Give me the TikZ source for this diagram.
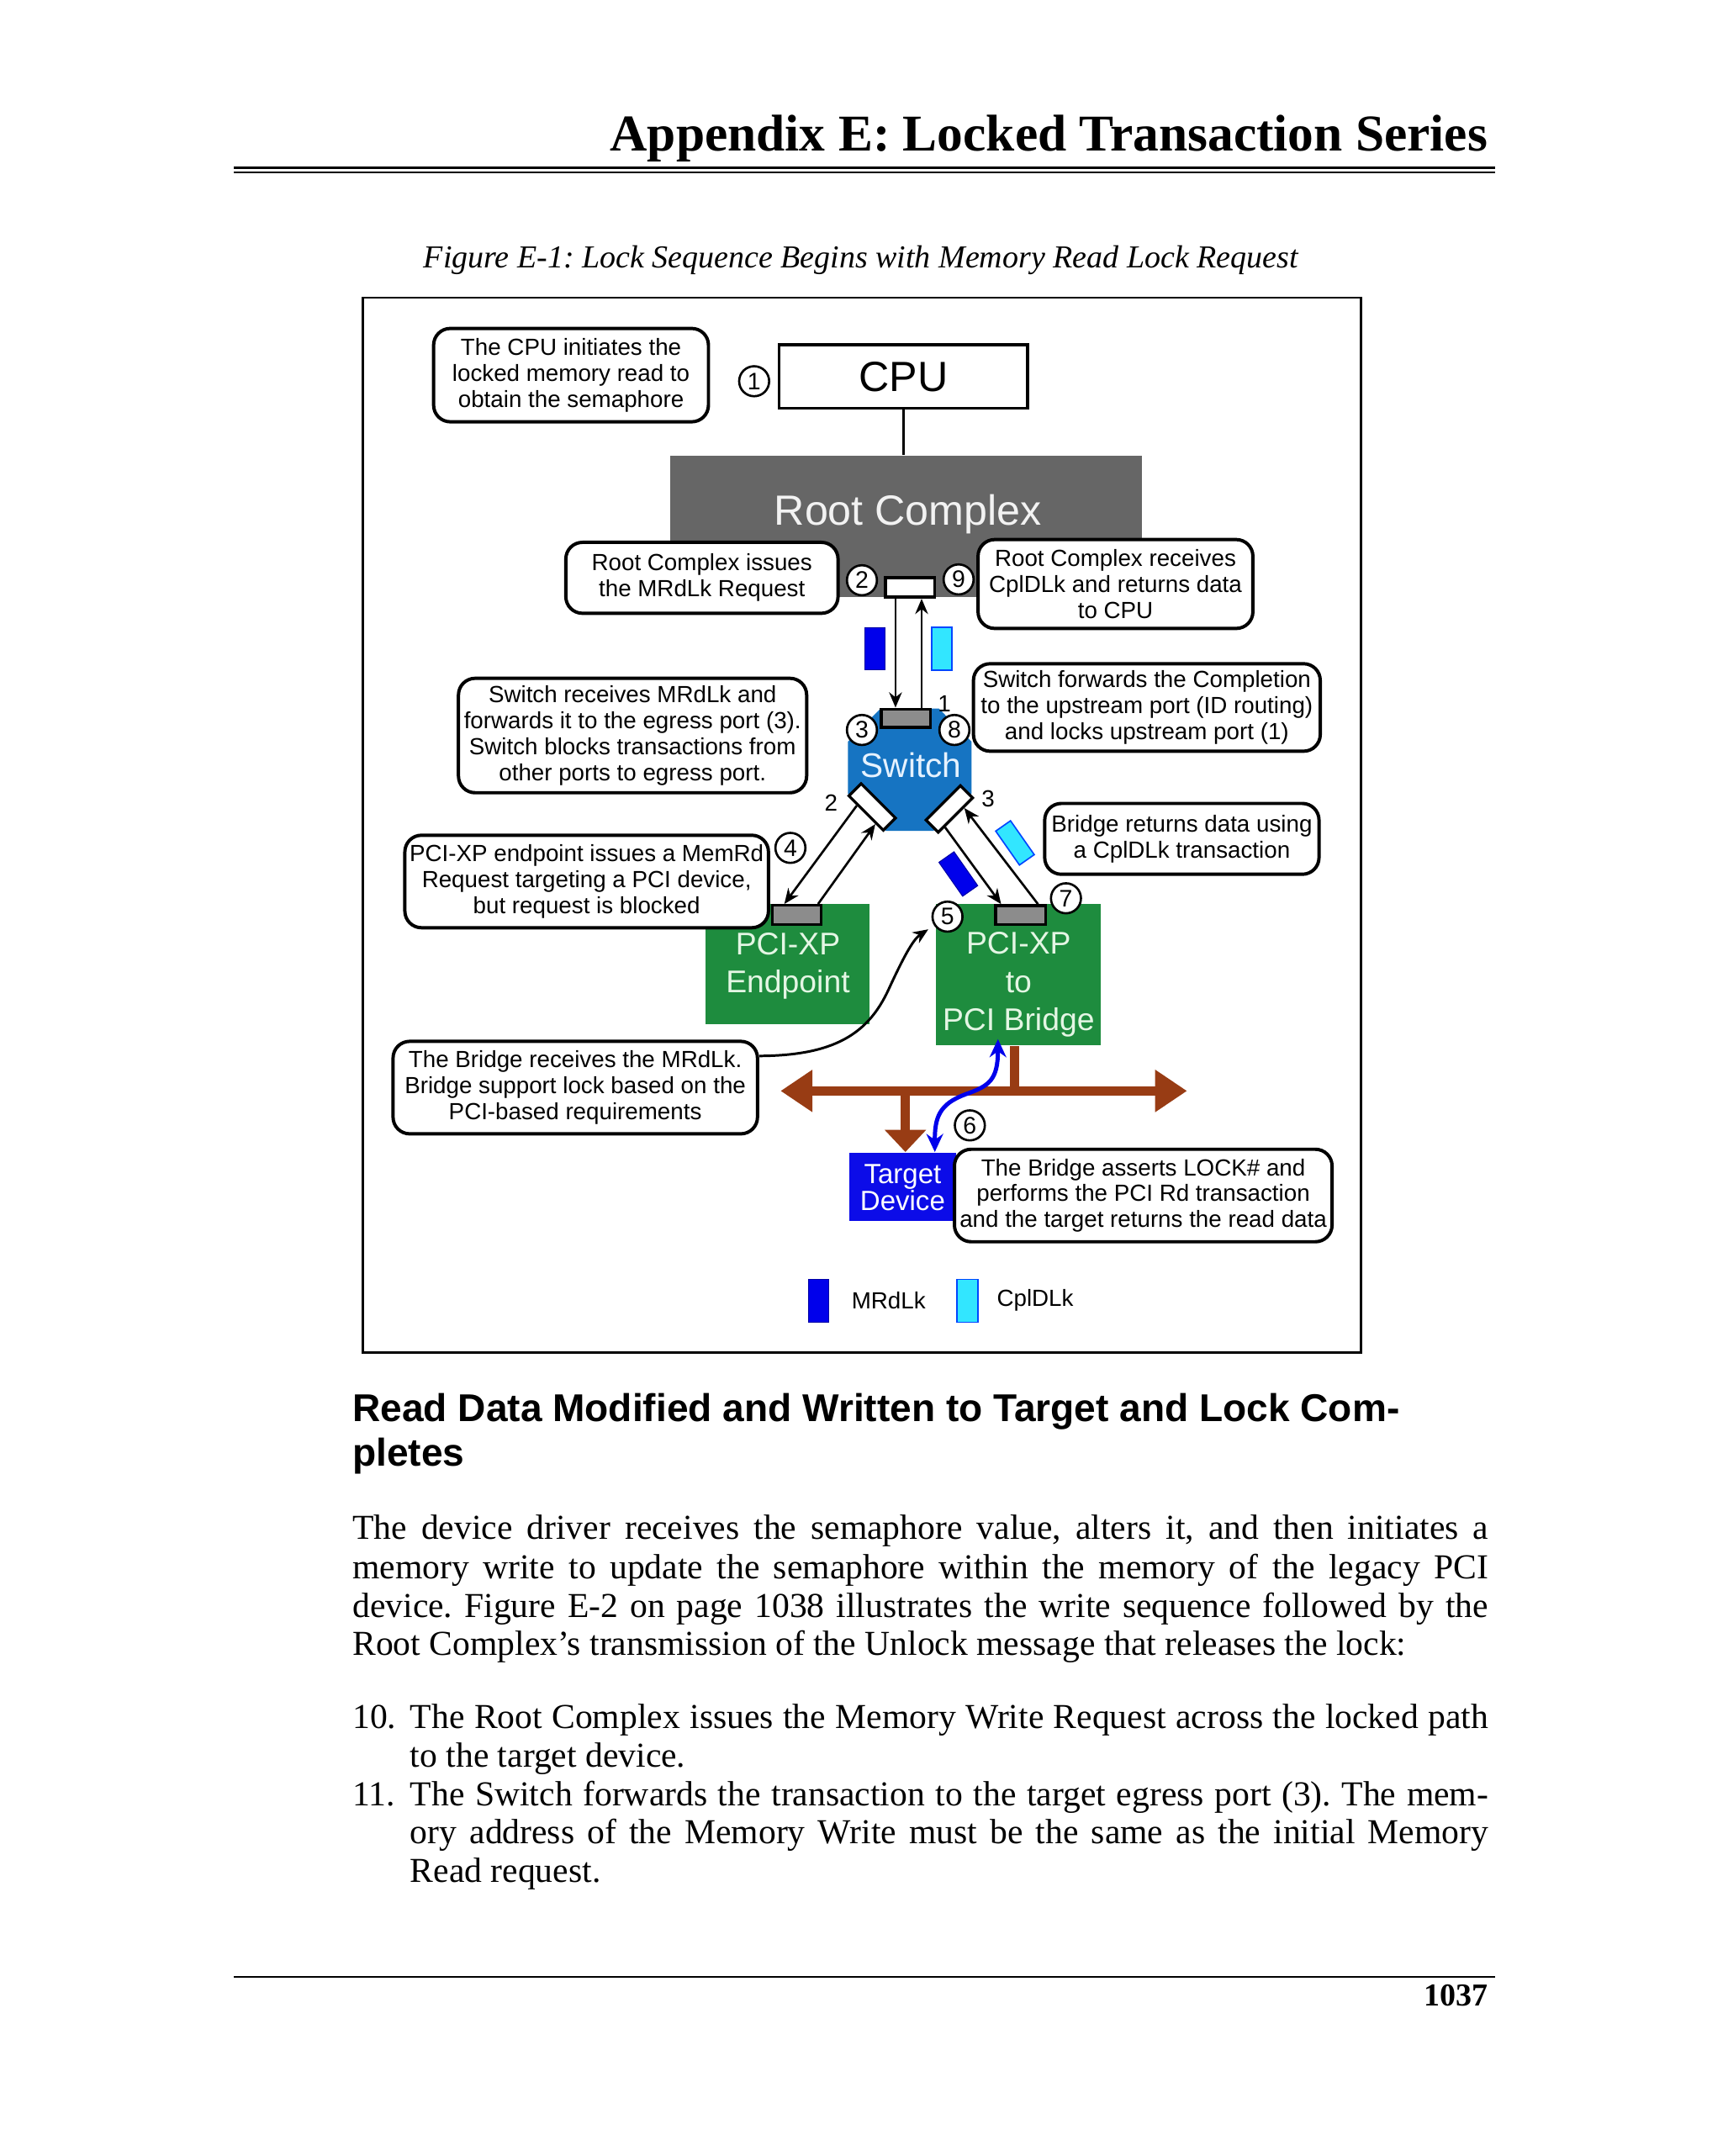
\documentclass[tikz,border=0pt]{standalone}
\usepackage{fontspec}
\setmainfont{Liberation Serif}
\setsansfont{Liberation Sans}
\newfontfamily\diagfont{Liberation Sans}
\usetikzlibrary{arrows.meta,calc}

\definecolor{rcgray}{RGB}{102,102,102}
\definecolor{rctext}{RGB}{242,242,242}
\definecolor{swblue}{RGB}{22,116,194}
\definecolor{swtext}{RGB}{230,242,255}
\definecolor{pgreen}{RGB}{30,140,62}
\definecolor{greentext}{RGB}{228,246,228}
\definecolor{portgray}{RGB}{140,140,140}
\definecolor{mrblue}{RGB}{0,0,235}
\definecolor{cplcyan}{RGB}{50,230,255}
\definecolor{cpledge}{RGB}{0,70,255}
\definecolor{tgtblue}{RGB}{12,12,232}
\definecolor{busbrown}{RGB}{152,60,20}

\newcommand\callfont{\diagfont\fontsize{8.4}{9.35}\selectfont}
\frenchspacing

\begin{document}
\begin{tikzpicture}[x=0.5pt,y=-0.5pt,
  callout/.style={draw, line width=1.2pt, rounded corners=6pt, fill=white, align=center, font=\callfont, inner sep=0pt},
  circnum/.style={circle, draw, line width=0.8pt, fill=white, inner sep=0pt, minimum size=10.8pt, font=\diagfont\fontsize{8.6}{8.6}\selectfont},
  portlbl/.style={font=\callfont, inner sep=0pt},
  wport/.style={draw, line width=1pt, fill=white, inner sep=0pt},
  gport/.style={draw, line width=1pt, fill=portgray, inner sep=0pt},
  link/.style={line width=0.8pt, -{Stealth[length=5.5pt,width=4.6pt]}},
  blk/.style={inner sep=0pt},
  gtext/.style={align=center, text=greentext, inner sep=0pt, font=\diagfont\fontsize{11.3}{13.7}\selectfont},
  mrpkt/.style={fill=mrblue, draw=mrblue!70!black, line width=0.3pt, inner sep=0pt},
  cplpkt/.style={fill=cplcyan, draw=cpledge, line width=0.5pt, inner sep=0pt},
  bus/.style={busbrown, line width=3.5pt}
]
\useasboundingbox (0,0) rectangle (1240,1552.4);

% ---------- page header ----------
\node[anchor=base east, inner sep=0pt, font=\fontsize{18.6}{20}\selectfont\bfseries] (title) at (1071.5,108.6) {Appendix E: Locked Transaction Series};
\coordinate (ruleL) at (168.3,120.7);
\coordinate (ruleR) at (1076.2,120.7);
\draw[line width=0.85pt] (ruleL) -- (ruleR);
\draw[line width=0.5pt] ([yshift=-1.8pt]ruleL) -- ([yshift=-1.8pt]ruleR);
\node[anchor=base, inner sep=0pt, font=\fontsize{11.5}{13}\selectfont\itshape] (caption) at (619.8,192.7) {Figure E-1: Lock Sequence Begins with Memory Read Lock Request};

% ---------- frame ----------
\node[draw, line width=0.8pt, minimum width=359.25pt, minimum height=379.7pt, inner sep=0pt] (frame) at (620.55,594) {};

% ---------- Root complex and CPU ----------
\node[blk, fill=rcgray, minimum width=169.65pt, minimum height=50.95pt] (rc) at (652.35,378.95) {};
\node[blk, text=rctext, font=\diagfont\fontsize{15.2}{15.2}\selectfont] (rclbl) at (653.8,370) {Root Complex};
\node[draw, line width=1.1pt, minimum width=89.5pt, minimum height=22.9pt, inner sep=0pt, font=\diagfont\fontsize{15.2}{15.2}\selectfont] (cpu) at (650.5,271.1) {CPU};
\draw[line width=1pt] (cpu.south) -- (cpu.south |- rc.north);

% ---------- Switch ----------
\fill[swblue] (634,510.2) -- (676,510.2) -- (699.5,534) -- (699.5,571.5) -- (672,598.3) -- (638,598.3) -- (610.5,571.5) -- (610.5,534) -- cycle;
\node[blk, text=swtext, font=\diagfont\fontsize{12.3}{12.3}\selectfont] (sw) at (656,551) {Switch};
\node[gport, minimum width=17.7pt, minimum height=6.6pt] (usp) at (652.3,517.1) {};
\node[wport, rotate=-45, minimum width=17.5pt, minimum height=6.2pt] (sp2) at (628,581) {};
\node[wport, rotate=45, minimum width=17.5pt, minimum height=6.2pt] (sp3) at (683.5,582.5) {};

% root complex port
\node[wport, line width=1.1pt, minimum width=17.7pt, minimum height=7pt] (rcp) at (655.3,423) {};

% vertical links
\coordinate (dnx) at ($(rcp.south west)!0.22!(rcp.south east)$);
\coordinate (upx) at ($(rcp.south west)!0.72!(rcp.south east)$);
\draw[link] (dnx) -- (dnx |- usp.north);
\draw[link] (upx |- usp.north) -- (upx);

% packets near root complex
\node[mrpkt, minimum width=7.4pt, minimum height=15.35pt] (pk1) at (630,467.05) {};
\node[cplpkt, minimum width=7.4pt, minimum height=15.35pt] (pk2) at (678.15,467.05) {};

% ---------- Endpoint and Bridge ----------
\node[blk, fill=pgreen, minimum width=59.15pt, minimum height=43.25pt] (ep) at (566.85,694.25) {};
\node[gtext] (eplbl) at (567.3,695.5) {PCI-XP\\Endpoint};
\node[blk, fill=pgreen, minimum width=59.45pt, minimum height=50.9pt] (br) at (733.15,701.9) {};
\node[gtext] (brlbl) at (733.4,709) {PCI-XP\\to\\PCI Bridge};
\node[gport, minimum width=17.7pt, minimum height=6.85pt] (epp) at (573.7,658.75) {};
\node[gport, minimum width=17.95pt, minimum height=6.8pt] (brp) at (734.85,658.8) {};

% links switch <-> endpoint / bridge
\draw[link] ($(sp2.south west)!0.27!(sp2.south east)$) -- ($(epp.north west)!0.26!(epp.north east)$);
\draw[link] ($(epp.north west)!0.91!(epp.north east)$) -- ($(sp2.south west)!0.78!(sp2.south east)$);
\draw[link] ($(sp3.south west)!0.19!(sp3.south east)$) -- ($(brp.north west)!0.13!(brp.north east)$);
\draw[link] ($(brp.north west)!0.83!(brp.north east)$) -- ($(sp3.south west)!0.72!(sp3.south east)$);

% rotated packets
\node[mrpkt, rotate=-55, minimum width=14.9pt, minimum height=6.65pt] (pk3) at (690,629.3) {};
\node[cplpkt, rotate=-55, minimum width=14.9pt, minimum height=6.5pt] (pk4) at (730.8,606.9) {};

% ---------- PCI bus ----------
\coordinate (busL) at (562,785.5);
\coordinate (busR) at (854.7,785.5);
\coordinate (bstem) at (730.6,785.5);
\coordinate (tstem) at (651.9,785.5);
\node[blk, fill=tgtblue, minimum width=38.35pt, minimum height=24.55pt] (tgt) at (649.85,854.45) {};
\node[blk, align=center, text=white, font=\diagfont\fontsize{10}{9.6}\selectfont] (tgtlbl) at (649.9,855.2) {Target\\Device};
\draw[bus] (bstem |- br.south) -- (bstem);
\draw[bus, -{Triangle[length=8pt,width=14.5pt]}] (tstem) -- (tstem |- tgt.north);
\draw[bus, {Triangle[length=11.5pt,width=14.5pt]}-{Triangle[length=11.5pt,width=14.5pt]}] (busL) -- (busR);

% blue double arrow (6)
\coordinate (ta) at ($(tgt.north west)!0.80!(tgt.north east)$);
\coordinate (bb) at ($(br.south west)!0.378!(br.south east)$);
\draw[mrblue, line width=1.5pt, {Stealth[length=6.5pt,width=6pt]}-{Stealth[length=6.5pt,width=6pt]}] (ta) .. controls (673,805) and (676,795) .. (695,788) .. controls (712,782) and (718.5,778) .. ([yshift=2.5pt]bb);

% ---------- callouts ----------
\node[callout, minimum width=98.95pt, minimum height=33.6pt] (c1) at (411.15,270.1) {The CPU initiates the\\locked memory read to\\obtain the semaphore};
\node[callout, minimum width=98pt, minimum height=25.55pt] (c2) at (505.4,416.05) {Root Complex issues\\the MRdLk Request};
\node[callout, minimum width=98.95pt, minimum height=32pt] (c9) at (803.15,420.5) {Root Complex receives\\CplDLk and returns data\\to CPU};
\node[callout, minimum width=125.35pt, minimum height=41.2pt] (csw) at (455.45,529.6) {Switch receives MRdLk and\\forwards it to the egress port (3).\\Switch blocks transactions from\\other ports to egress port.};
\node[callout, minimum width=124.85pt, minimum height=31.5pt] (cfw) at (825.75,509.4) {Switch forwards the Completion\\to the upstream port (ID routing)\\and locks upstream port (1)};
\node[callout, minimum width=130.9pt, minimum height=33.3pt] (cep) at (422.4,634.7) {PCI-XP endpoint issues a MemRd\\Request targeting a PCI device,\\but request is blocked};
\node[callout, minimum width=98.75pt, minimum height=25.5pt] (cbr) at (850.95,604) {Bridge returns data using\\a CplDLk transaction};
\node[callout, minimum width=131.2pt, minimum height=33.3pt] (cbx) at (414.2,783.1) {The Bridge receives the MRdLk.\\Bridge support lock based on the\\PCI-based requirements};
\node[callout, minimum width=135.95pt, minimum height=33.3pt] (clk) at (823.15,860.8) {The Bridge asserts LOCK\# and\\performs the PCI Rd transaction\\and the target returns the read data};

% ---------- circled step numbers ----------
\node[circnum] (n1) at (543,274.5) {1};
\node[circnum] (n2) at (620.6,417.8) {2};
\node[circnum] (n9) at (690.2,417.2) {9};
\node[circnum] (n3) at (620.6,525.6) {3};
\node[circnum] (n8) at (687.2,525.6) {8};
\node[circnum] (n4) at (569.1,610.5) {4};
\node[circnum] (n5) at (682.2,660) {5};
\node[circnum] (n7) at (767.5,646.8) {7};
\node[circnum] (n6) at (698.3,810.3) {6};

% port numbers
\node[portlbl] (l1) at (680,507) {1};
\node[portlbl] (l2) at (598.4,578.2) {2};
\node[portlbl] (l3) at (711.4,575.2) {3};

% curved arrow from bridge callout to step 5
\coordinate (cvs) at ($(cbx.north east)!0.17!(cbx.south east)$);
\draw[link, line width=0.9pt, shorten >=2.5pt] (cvs) .. controls (600,760) and (625,745) .. (640,712) .. controls (652,686) and (658,676) .. (n5);

% ---------- legend ----------
\node[mrpkt, minimum width=7.3pt, minimum height=15.35pt] (lg1) at (589.5,936.65) {};
\node[cplpkt, minimum width=7.55pt, minimum height=15.35pt] (lg2) at (696.65,936.65) {};
\node[anchor=west, inner sep=0pt, font=\callfont] (lg1t) at (612.8,936.5) {MRdLk};
\node[anchor=west, inner sep=0pt, font=\callfont] (lg2t) at (717.4,936.5) {CplDLk};

% ---------- text below figure ----------
\node[anchor=base west, inner sep=0pt, font=\diagfont\bfseries\fontsize{13.95}{16}\selectfont] (h1) at (253.5,1023.8) {Read Data Modified and Written to Target and Lock Com-};
\node[anchor=base west, inner sep=0pt, font=\diagfont\bfseries\fontsize{13.95}{16}\selectfont] (h2) at (253.5,1055.4) {pletes};

\node[anchor=base west, inner sep=0pt, font=\fontsize{12.6}{14}\selectfont] (p1) at (253.5,1108) {\makebox[408.9pt][s]{The device driver receives the semaphore value, alters it, and then initiates a}};
\node[anchor=base west, inner sep=0pt, font=\fontsize{12.6}{14}\selectfont] (p2) at (253.5,1136.6) {\makebox[408.9pt][s]{memory write to update the semaphore within the memory of the legacy PCI}};
\node[anchor=base west, inner sep=0pt, font=\fontsize{12.6}{14}\selectfont] (p3) at (253.5,1164.4) {\makebox[408.9pt][s]{device. Figure E-2 on page 1038 illustrates the write sequence followed by the}};
\node[anchor=base west, inner sep=0pt, font=\fontsize{12.6}{14}\selectfont] (p4) at (253.5,1192) {Root Complex’s transmission of the Unlock message that releases the lock:};

\node[anchor=base west, inner sep=0pt, font=\fontsize{12.6}{14}\selectfont] (i10) at (253.5,1244.6) {10.};
\node[anchor=base west, inner sep=0pt, font=\fontsize{12.6}{14}\selectfont] (i10a) at (295,1244.6) {\makebox[388.15pt][s]{The Root Complex issues the Memory Write Request across the locked path}};
\node[anchor=base west, inner sep=0pt, font=\fontsize{12.6}{14}\selectfont] (i10b) at (295,1272.3) {to the target device.};
\node[anchor=base west, inner sep=0pt, font=\fontsize{12.6}{14}\selectfont] (i11) at (253.5,1300) {11.};
\node[anchor=base west, inner sep=0pt, font=\fontsize{12.6}{14}\selectfont] (i11a) at (295,1300) {\makebox[388.15pt][s]{The Switch forwards the transaction to the target egress port (3). The mem-}};
\node[anchor=base west, inner sep=0pt, font=\fontsize{12.6}{14}\selectfont] (i11b) at (295,1327.7) {\makebox[388.15pt][s]{ory address of the Memory Write must be the same as the initial Memory}};
\node[anchor=base west, inner sep=0pt, font=\fontsize{12.6}{14}\selectfont] (i11c) at (295,1355.4) {Read request.};

% ---------- footer ----------
\coordinate (footL) at (168.3,1423.5);
\coordinate (footR) at (1076.2,1423.5);
\draw[line width=0.8pt] (footL) -- (footR);
\node[anchor=base east, inner sep=0pt, font=\fontsize{11.5}{13}\selectfont\bfseries] (pageno) at (1071.5,1444.6) {1037};
\end{tikzpicture}
\end{document}
